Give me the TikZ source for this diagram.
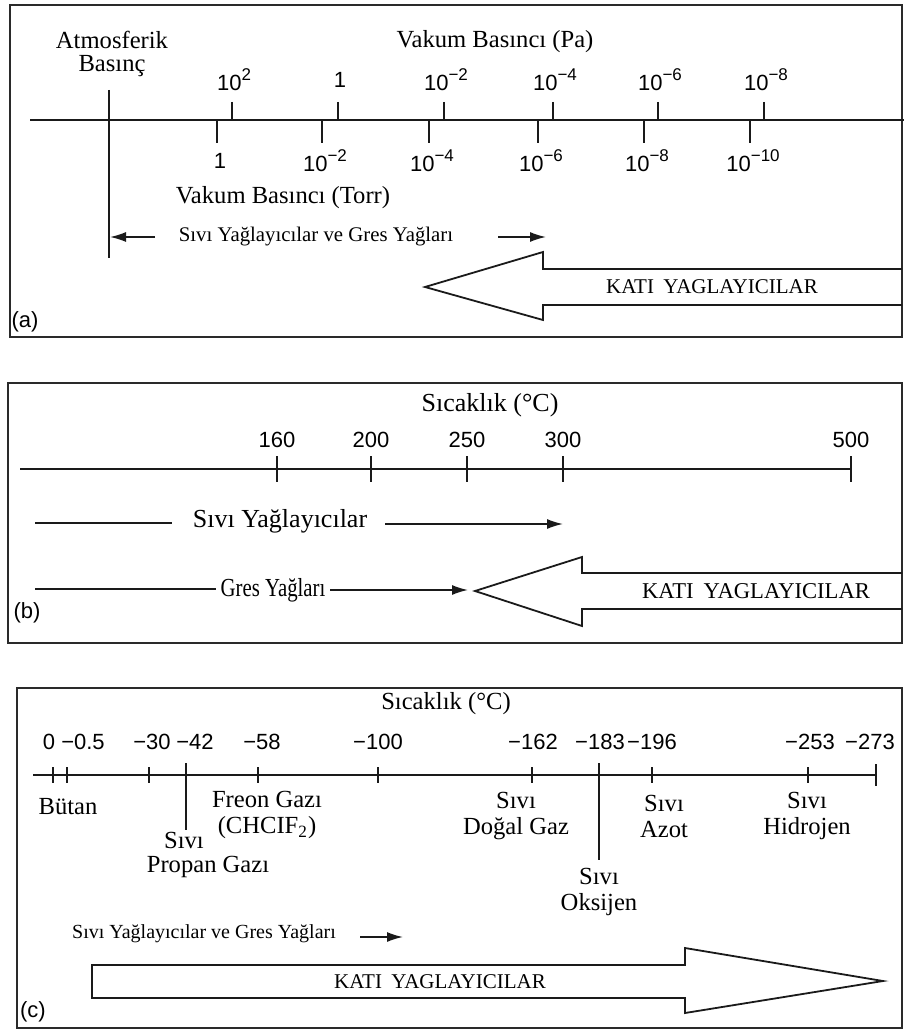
\documentclass[tikz,border=0pt]{standalone}
\usepackage{fontspec}
\setmainfont{Liberation Serif}
\setsansfont{Liberation Sans}
\usetikzlibrary{arrows.meta}
\definecolor{FrameInk}{HTML}{2A2A2A}
\definecolor{AxisInk}{HTML}{1A1A1A}
\newcommand{\expo}[1]{\raisebox{0.45em}{\fontsize{8.5}{9}\selectfont #1}}

\begin{document}
\begin{tikzpicture}[x=0.5pt,y=-0.5pt,
    panelframe/.style={draw=FrameInk,line width=1.1pt},
    axisline/.style={draw=AxisInk,line width=1.3pt},
    tickmark/.style={draw=AxisInk,line width=0.8pt},
    thinline/.style={draw=AxisInk,line width=0.6pt},
    smallarrow/.style={draw=AxisInk,line width=0.8pt,-{Latex[length=8pt,width=5pt]}},
    bigarrow/.style={draw=AxisInk,line width=0.9pt,line join=miter},
    serif/.style={inner sep=0pt,font=\fontsize{12.3}{11}\selectfont,align=center},
    bigserif/.style={inner sep=0pt,font=\fontsize{13}{13}\selectfont},
    smallserif/.style={inner sep=0pt,font=\fontsize{10.4}{12}\selectfont},
    numlbl/.style={inner sep=0pt,font=\sffamily\fontsize{11}{12}\selectfont},
    panellbl/.style={inner sep=0pt,font=\sffamily\fontsize{11}{12}\selectfont},
    solidlbl/.style={inner sep=0pt,font=\fontsize{10.5}{12}\selectfont}]
  \useasboundingbox (0,0) rectangle (904,1031);

  % (a) vakum basinci
  \draw[panelframe] (10,5) rectangle (902,337);
  \node[serif] (vakpa) at (495,42) {Vakum Basıncı (Pa)};
  \node[serif,font=\fontsize{12.3}{11.5}\selectfont] (atm) at (112,54) {Atmosferik\\Basınç};
  \draw[axisline] (30,120) -- (904,120);
  \draw[thinline] (109,90) -- (109,258);
  \foreach \x/\t in {232/10\expo{2},338/1,444/10\expo{−2},553/10\expo{−4},658/10\expo{−6},764/10\expo{−8}} {
    \draw[tickmark] (\x,102) -- (\x,120);
    \node[numlbl] at (\x+2,80) {\t};
  }
  \foreach \x/\t in {217/1,322/10\expo{−2},429/10\expo{−4},538/10\expo{−6},644/10\expo{−8},750/10\expo{−10}} {
    \draw[tickmark] (\x,120) -- (\x,143);
    \node[numlbl] at (\x+3,161) {\t};
  }
  \node[serif] (vaktorr) at (283,198) {Vakum Basıncı (Torr)};
  \node[smallserif] (liqa) at (316,237) {Sıvı Yağlayıcılar ve Gres Yağları};
  \coordinate (liqaL) at (155,237);
  \coordinate (liqaLtip) at (110,237);
  \coordinate (liqaR) at (498,237);
  \coordinate (liqaRtip) at (546,237);
  \draw[smallarrow] (liqaL) -- (liqaLtip);
  \draw[smallarrow] (liqaR) -- (liqaRtip);
  \draw[bigarrow] (902,269) -- (543,269) -- (543,252) -- (425,287) -- (543,320) -- (543,305) -- (902,305);
  \node[solidlbl] (solida) at (712,287) {KATI\hspace{0.45em}YAGLAYICILAR};
  \node[panellbl] (tagA) at (25,322) {(a)};

  % (b) sicaklik
  \draw[panelframe] (8,383) rectangle (902,643);
  \node[bigserif] (tempb) at (490,405) {Sıcaklık (°C)};
  \draw[axisline] (20,469) -- (851,469);
  \foreach \x/\t in {277/160,371/200,467/250,563/300,851/500} {
    \draw[tickmark] (\x,456) -- (\x,482);
    \node[numlbl] at (\x,440) {\t};
  }
  \node[bigserif] (liqb) at (280,521) {Sıvı Yağlayıcılar};
  \coordinate (liqbL) at (35,523);
  \coordinate (liqbLend) at (172,523);
  \coordinate (liqbR) at (385,524);
  \coordinate (liqbRtip) at (563,524);
  \draw[thinline] (liqbL) -- (liqbLend);
  \draw[smallarrow] (liqbR) -- (liqbRtip);
  \node[bigserif] (greb) at (273,590) {\scalebox{0.8}[1]{Gres Yağları}};
  \coordinate (grebL) at (35,589);
  \coordinate (grebLend) at (216,589);
  \coordinate (grebR) at (330,590);
  \coordinate (grebRtip) at (468,590);
  \draw[thinline] (grebL) -- (grebLend);
  \draw[smallarrow] (grebR) -- (grebRtip);
  \draw[bigarrow] (902,573) -- (582,573) -- (582,557) -- (475,591) -- (582,626) -- (582,609) -- (902,609);
  \node[solidlbl,font=\fontsize{11.3}{12}\selectfont] (solidb) at (756,591) {KATI\hspace{0.45em}YAGLAYICILAR};
  \node[panellbl] (tagB) at (27,613) {(b)};

  % (c) dusuk sicaklik
  \draw[panelframe] (17,688) rectangle (902,1028);
  \node[serif] (tempc) at (446,704) {Sıcaklık (°C)};
  \draw[axisline] (33,775) -- (876,775);
  \foreach \x in {53,67,149,258,378,532,652,808} {
    \draw[tickmark] (\x,767) -- (\x,783);
  }
  \draw[tickmark] (876,764) -- (876,786);
  \draw[thinline] (186,763) -- (186,830);
  \draw[thinline] (599,763) -- (599,860);
  \foreach \x/\t in {49/0,83/−0.5,152/−30,195/−42,262/−58,378/−100,533/−162,600/−183,652/−196,810/−253,870/−273} {
    \node[numlbl] at (\x,742) {\t};
  }
  \node[serif] (butan) at (68,807) {Bütan};
  \node[serif,font=\fontsize{12.3}{13}\selectfont] (freon) at (267,815) {Freon Gazı\\(CHCIF\textsubscript{2})};
  \node[serif] (propan1) at (184,840) {Sıvı};
  \node[serif] (propan2) at (208,867) {Propan Gazı};
  \node[serif,font=\fontsize{12.3}{13}\selectfont] (dogal) at (516,816) {Sıvı\\Doğal Gaz};
  \node[serif,font=\fontsize{12.3}{13}\selectfont] (azot) at (664,816) {Sıvı\\Azot};
  \node[serif,font=\fontsize{12.3}{13}\selectfont] (hidro) at (807,816) {Sıvı\\Hidrojen};
  \node[serif,font=\fontsize{12.3}{13}\selectfont] (oksi) at (599,892) {Sıvı\\Oksijen};
  \node[smallserif,font=\fontsize{10}{12}\selectfont] (liqc) at (204,934) {Sıvı Yağlayıcılar ve Gres Yağları};
  \coordinate (liqcR) at (360,937);
  \coordinate (liqcRtip) at (403,937);
  \draw[smallarrow] (liqcR) -- (liqcRtip);
  \draw[bigarrow] (92,965) -- (685,965) -- (685,948) -- (883,981) -- (685,1013) -- (685,998) -- (92,998) -- cycle;
  \node[solidlbl] (solidc) at (440,982) {KATI\hspace{0.45em}YAGLAYICILAR};
  \node[panellbl] (tagC) at (33,1012) {(c)};
\end{tikzpicture}
\end{document}
